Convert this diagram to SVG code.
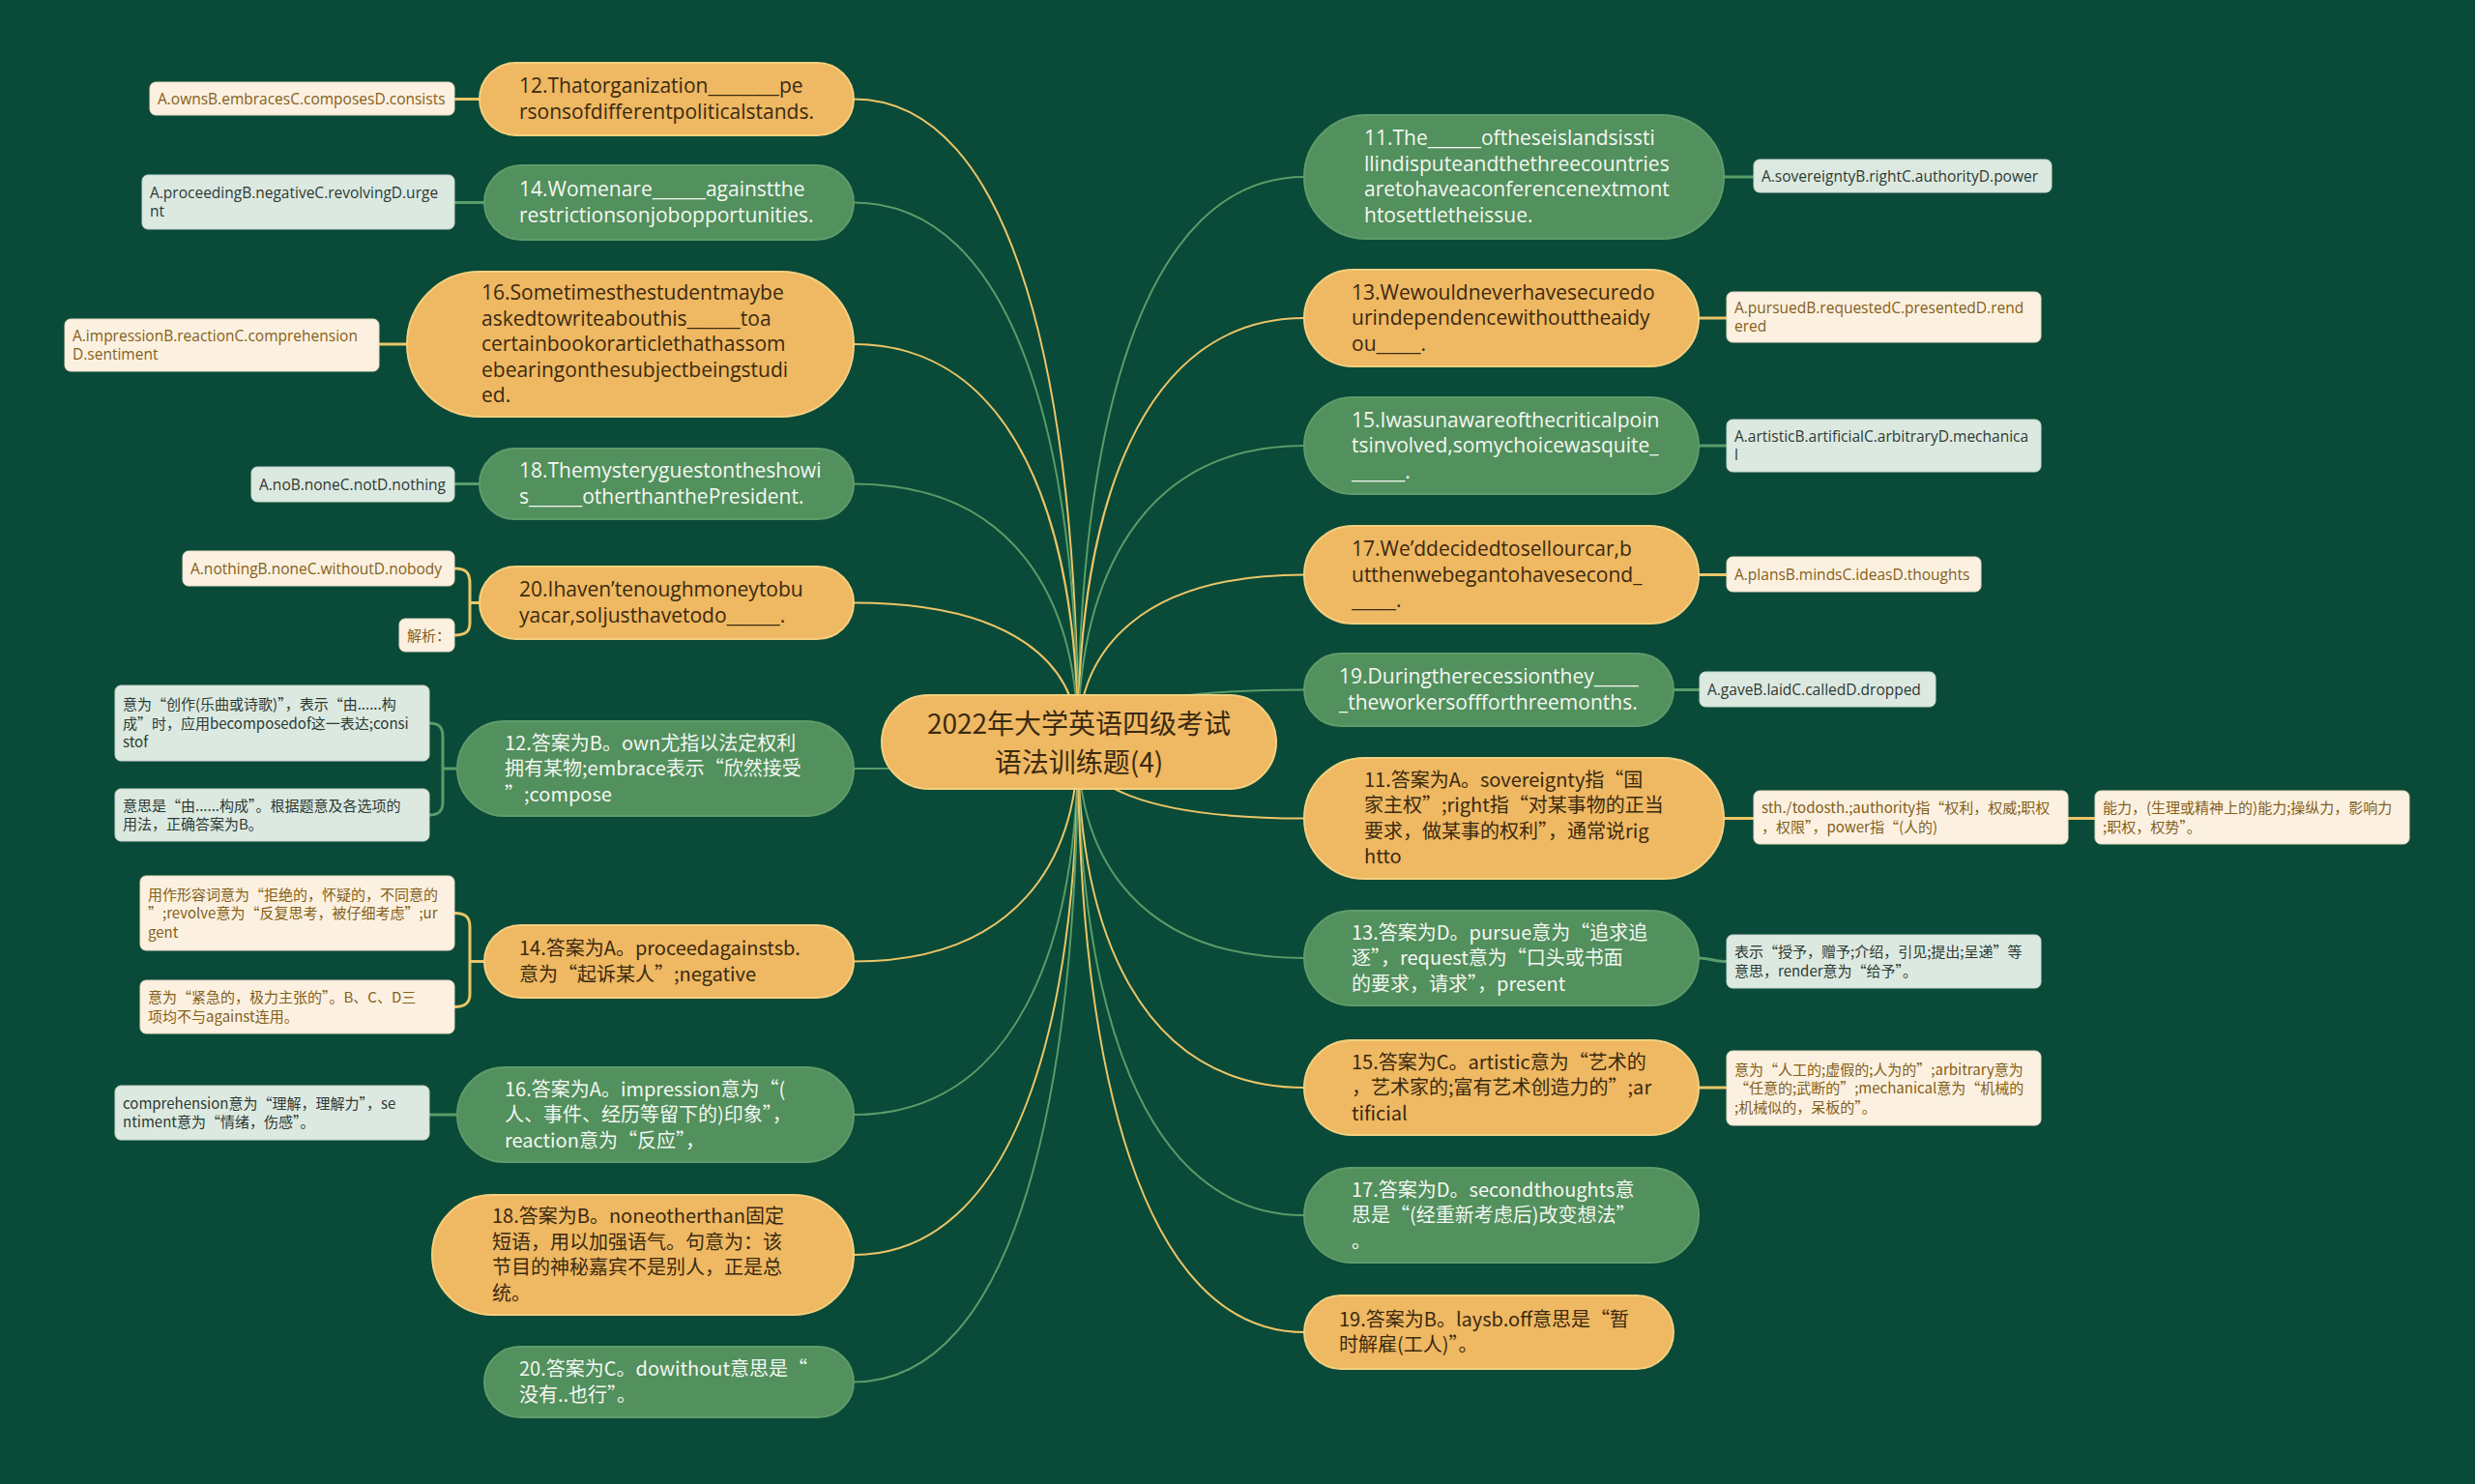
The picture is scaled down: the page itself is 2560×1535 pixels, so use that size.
<svg xmlns="http://www.w3.org/2000/svg" width="2560" height="1535" viewBox="0 0 2560 1535">
<style>
.on{fill:#efb862;stroke:#f5d07f;stroke-width:2}
.gn{fill:#52905d;stroke:#5e9c69;stroke-width:2}
.cb{fill:#fcf1e1;stroke:#e9dcc4;stroke-width:1}
.lb{fill:#dce9e1;stroke:#c8d9ce;stroke-width:1}
text{font-family:"Open Sans","Noto Sans CJK SC",sans-serif}
.te{font-family:"Open Sans","Noto Sans CJK SC",sans-serif;font-size:21px}
.tz{font-family:"Noto Sans CJK SC","Open Sans",sans-serif;font-size:20px}
.be{font-family:"Open Sans","Noto Sans CJK SC",sans-serif;font-size:15.5px}
.bz{font-family:"Noto Sans CJK SC","Open Sans",sans-serif;font-size:15px}
.ct{font-family:"Noto Sans CJK SC",sans-serif;font-size:28px}
.dk{fill:#3a2a10}
.wh{fill:#f4f7f2}
.br{fill:#84601a}
.bd{fill:#2d3a33}
.ly{stroke:#ecc567;fill:none;stroke-width:2}
.lg{stroke:#5a9c69;fill:none;stroke-width:2}
.s{stroke-width:3}
</style>
<rect x="0" y="0" width="2560" height="1535" fill="#0a4a38"/>
<g id="connectors">
<path class="ly" d="M1115 767 C1115 401.5 1050 102.5 883 102.5"/>
<path class="lg" d="M1115 767 C1115 460.4 1050 209.5 883 209.5"/>
<path class="ly" d="M1115 767 C1115 541 1050 356 883 356"/>
<path class="lg" d="M1115 767 C1115 620.4 1050 500.5 883 500.5"/>
<path class="ly" d="M1115 767 C1115 688.1 1050 623.5 883 623.5"/>
<path class="lg" d="M1115 767 C1115 782.4 1050 795 883 795"/>
<path class="ly" d="M1115 767 C1115 892.1 1050 994.5 883 994.5"/>
<path class="lg" d="M1115 767 C1115 979.3 1050 1153 883 1153"/>
<path class="ly" d="M1115 767 C1115 1059 1050 1298 883 1298"/>
<path class="lg" d="M1115 767 C1115 1131.4 1050 1429.5 883 1429.5"/>
<path class="lg" d="M1115 767 C1115 445.8 1180.5 183 1349 183"/>
<path class="ly" d="M1115 767 C1115 526.1 1180.5 329 1349 329"/>
<path class="lg" d="M1115 767 C1115 598.7 1180.5 461 1349 461"/>
<path class="ly" d="M1115 767 C1115 672.1 1180.5 594.5 1349 594.5"/>
<path class="lg" d="M1115 767 C1115 737.6 1180.5 713.5 1349 713.5"/>
<path class="ly" d="M1115 767 C1115 810.7 1180.5 846.5 1349 846.5"/>
<path class="lg" d="M1115 767 C1115 890.2 1180.5 991 1349 991"/>
<path class="ly" d="M1115 767 C1115 963.9 1180.5 1125 1349 1125"/>
<path class="lg" d="M1115 767 C1115 1036.5 1180.5 1257 1349 1257"/>
<path class="ly" d="M1115 767 C1115 1103 1180.5 1378 1349 1378"/>
<path class="ly s" d="M496 102.5 H470"/>
<path class="lg s" d="M501 209.5 H470"/>
<path class="ly s" d="M421 356 H392"/>
<path class="lg s" d="M496 500.5 H470"/>
<path class="ly s" d="M496 623.5 H486 M470 588 C482 588 486 592 486 604 V644 C486 653 482 657 470 657"/>
<path class="lg s" d="M473 795 H458 M444 748 C454 748 458 752 458 762 V829 C458 839 454 843 444 843"/>
<path class="ly s" d="M501 994.5 H486 M470 944.5 C482 944.5 486 949 486 959 V1028 C486 1037 482 1041.5 470 1041.5"/>
<path class="lg s" d="M473 1153 H444"/>
<path class="lg s" d="M1783 183 H1814"/>
<path class="ly s" d="M1757 329 H1786"/>
<path class="lg s" d="M1757 461 H1786"/>
<path class="ly s" d="M1757 594.5 H1786"/>
<path class="lg s" d="M1731 713.5 H1758"/>
<path class="ly s" d="M1783 846.5 H1814 M2139 846.5 H2167"/>
<path class="lg s" d="M1757 991 C1770 991 1772 994.5 1786 994.5"/>
<path class="ly s" d="M1757 1125 H1786"/>
</g>
<g id="center">
<rect class="on" x="912" y="719" width="408" height="97" rx="48.5"/>
<text class="ct dk" x="1116" y="759" text-anchor="middle">2022年大学英语四级考试</text>
<text class="ct dk" x="1116" y="799" text-anchor="middle">语法训练题(4)</text>
</g>
<g id="q12">
<rect class="on" x="496" y="65" width="387" height="75" rx="37.5"/>
<text class="te dk"><tspan x="537" y="96">12.Thatorganization________pe</tspan><tspan x="537" y="123">rsonsofdifferentpoliticalstands.</tspan></text>
</g>
<g id="q14">
<rect class="gn" x="501" y="171" width="382" height="77" rx="38.5"/>
<text class="te wh"><tspan x="537" y="203">14.Womenare______againstthe</tspan><tspan x="537" y="230">restrictionsonjobopportunities.</tspan></text>
</g>
<g id="q16">
<rect class="on" x="421" y="281" width="462" height="150" rx="75"/>
<text class="te dk"><tspan x="498" y="310">16.Sometimesthestudentmaybe</tspan><tspan x="498" y="336.5">askedtowriteabouthis______toa</tspan><tspan x="498" y="363">certainbookorarticlethathassom</tspan><tspan x="498" y="389.5">ebearingonthesubjectbeingstudi</tspan><tspan x="498" y="416">ed.</tspan></text>
</g>
<g id="q18">
<rect class="gn" x="496" y="464" width="387" height="73" rx="36.5"/>
<text class="te wh"><tspan x="537" y="494">18.Themysteryguestontheshowi</tspan><tspan x="537" y="521">s______otherthanthePresident.</tspan></text>
</g>
<g id="q20">
<rect class="on" x="496" y="586" width="387" height="75" rx="37.5"/>
<text class="te dk"><tspan x="537" y="617">20.Ihaven’tenoughmoneytobu</tspan><tspan x="537" y="644">yacar,soIjusthavetodo______.</tspan></text>
</g>
<g id="a12">
<rect class="gn" x="473" y="746" width="410" height="98" rx="49"/>
<text class="tz wh"><tspan x="522" y="775.5">12.答案为B。own尤指以法定权利</tspan><tspan x="522" y="802">拥有某物;embrace表示“欣然接受</tspan><tspan x="522" y="828.5">”;compose</tspan></text>
</g>
<g id="a14">
<rect class="on" x="501" y="957" width="382" height="75" rx="37.5"/>
<text class="tz dk"><tspan x="537" y="988">14.答案为A。proceedagainstsb.</tspan><tspan x="537" y="1015">意为“起诉某人”;negative</tspan></text>
</g>
<g id="a16">
<rect class="gn" x="473" y="1104" width="410" height="98" rx="49"/>
<text class="tz wh"><tspan x="522" y="1133.5">16.答案为A。impression意为“(</tspan><tspan x="522" y="1160">人、事件、经历等留下的)印象”，</tspan><tspan x="522" y="1186.5">reaction意为“反应”，</tspan></text>
</g>
<g id="a18">
<rect class="on" x="447" y="1236" width="436" height="124" rx="62"/>
<text class="tz dk"><tspan x="509" y="1265">18.答案为B。noneotherthan固定</tspan><tspan x="509" y="1292">短语，用以加强语气。句意为：该</tspan><tspan x="509" y="1318">节目的神秘嘉宾不是别人，正是总</tspan><tspan x="509" y="1345">统。</tspan></text>
</g>
<g id="a20">
<rect class="gn" x="501" y="1393" width="382" height="73" rx="36.5"/>
<text class="tz wh"><tspan x="537" y="1423">20.答案为C。dowithout意思是“</tspan><tspan x="537" y="1450">没有..也行”。</tspan></text>
</g>
<g id="q11">
<rect class="gn" x="1349" y="119" width="434" height="128" rx="64"/>
<text class="te wh"><tspan x="1411" y="150">11.The______oftheseislandsissti</tspan><tspan x="1411" y="177">llindisputeandthethreecountries</tspan><tspan x="1411" y="203">aretohaveaconferencenextmont</tspan><tspan x="1411" y="230">htosettletheissue.</tspan></text>
</g>
<g id="q13">
<rect class="on" x="1349" y="279" width="408" height="100" rx="50"/>
<text class="te dk"><tspan x="1398" y="309.5">13.Wewouldneverhavesecuredo</tspan><tspan x="1398" y="336">urindependencewithouttheaidy</tspan><tspan x="1398" y="362.5">ou_____.</tspan></text>
</g>
<g id="q15">
<rect class="gn" x="1349" y="411" width="408" height="100" rx="50"/>
<text class="te wh"><tspan x="1398" y="441.5">15.Iwasunawareofthecriticalpoin</tspan><tspan x="1398" y="468">tsinvolved,somychoicewasquite_</tspan><tspan x="1398" y="494.5">______.</tspan></text>
</g>
<g id="q17">
<rect class="on" x="1349" y="544" width="408" height="101" rx="50.5"/>
<text class="te dk"><tspan x="1398" y="575">17.We’ddecidedtosellourcar,b</tspan><tspan x="1398" y="601.5">utthenwebegantohavesecond_</tspan><tspan x="1398" y="628">_____.</tspan></text>
</g>
<g id="q19">
<rect class="gn" x="1349" y="676" width="382" height="75" rx="37.5"/>
<text class="te wh"><tspan x="1385" y="707">19.Duringtherecessionthey_____</tspan><tspan x="1385" y="734">_theworkersoffforthreemonths.</tspan></text>
</g>
<g id="a11">
<rect class="on" x="1349" y="784" width="434" height="125" rx="62.5"/>
<text class="tz dk"><tspan x="1411" y="814">11.答案为A。sovereignty指“国</tspan><tspan x="1411" y="840">家主权”;right指“对某事物的正当</tspan><tspan x="1411" y="867">要求，做某事的权利”，通常说rig</tspan><tspan x="1411" y="893">htto</tspan></text>
</g>
<g id="a13">
<rect class="gn" x="1349" y="942" width="408" height="98" rx="49"/>
<text class="tz wh"><tspan x="1398" y="971.5">13.答案为D。pursue意为“追求追</tspan><tspan x="1398" y="998">逐”，request意为“口头或书面</tspan><tspan x="1398" y="1024.5">的要求，请求”，present</tspan></text>
</g>
<g id="a15">
<rect class="on" x="1349" y="1076" width="408" height="98" rx="49"/>
<text class="tz dk"><tspan x="1398" y="1105.5">15.答案为C。artistic意为“艺术的</tspan><tspan x="1398" y="1132">，艺术家的;富有艺术创造力的”;ar</tspan><tspan x="1398" y="1158.5">tificial</tspan></text>
</g>
<g id="a17">
<rect class="gn" x="1349" y="1208" width="408" height="98" rx="49"/>
<text class="tz wh"><tspan x="1398" y="1237.5">17.答案为D。secondthoughts意</tspan><tspan x="1398" y="1264">思是“(经重新考虑后)改变想法”</tspan><tspan x="1398" y="1290.5">。</tspan></text>
</g>
<g id="a19">
<rect class="on" x="1349" y="1340" width="382" height="76" rx="38"/>
<text class="tz dk"><tspan x="1385" y="1372">19.答案为B。laysb.off意思是“暂</tspan><tspan x="1385" y="1398">时解雇(工人)”。</tspan></text>
</g>
<g id="opt12">
<rect class="cb" x="155" y="85" width="315" height="34" rx="6"/>
<text class="be br" x="163" y="107.5">A.ownsB.embracesC.composesD.consists</text>
</g>
<g id="opt14">
<rect class="lb" x="147" y="181" width="323" height="56" rx="6"/>
<text class="be bd"><tspan x="155" y="205">A.proceedingB.negativeC.revolvingD.urge</tspan><tspan x="155" y="224">nt</tspan></text>
</g>
<g id="opt16">
<rect class="cb" x="67" y="330" width="325" height="54" rx="6"/>
<text class="be br"><tspan x="75" y="353">A.impressionB.reactionC.comprehension</tspan><tspan x="75" y="372">D.sentiment</tspan></text>
</g>
<g id="opt18">
<rect class="lb" x="260" y="483" width="210" height="36" rx="6"/>
<text class="be bd" x="268" y="506.5">A.noB.noneC.notD.nothing</text>
</g>
<g id="opt20">
<rect class="cb" x="189" y="570" width="281" height="36" rx="6"/>
<text class="be br" x="197" y="593.5">A.nothingB.noneC.withoutD.nobody</text>
</g>
<g id="jx20">
<rect class="cb" x="413" y="640" width="57" height="34" rx="6"/>
<text class="bz br" x="421" y="662.5">解析：</text>
</g>
<g id="d12a">
<rect class="lb" x="119" y="709" width="325" height="78" rx="6"/>
<text class="bz bd"><tspan x="127" y="734">意为“创作(乐曲或诗歌)”，表示“由......构</tspan><tspan x="127" y="753.5">成”时，应用becomposedof这一表达;consi</tspan><tspan x="127" y="773">stof</tspan></text>
</g>
<g id="d12b">
<rect class="lb" x="119" y="816" width="325" height="54" rx="6"/>
<text class="bz bd"><tspan x="127" y="839">意思是“由......构成”。根据题意及各选项的</tspan><tspan x="127" y="858">用法，正确答案为B。</tspan></text>
</g>
<g id="d14a">
<rect class="cb" x="145" y="906" width="325" height="77" rx="6"/>
<text class="bz br"><tspan x="153" y="930.5">用作形容词意为“拒绝的，怀疑的，不同意的</tspan><tspan x="153" y="950">”;revolve意为“反复思考，被仔细考虑”;ur</tspan><tspan x="153" y="969.5">gent</tspan></text>
</g>
<g id="d14b">
<rect class="cb" x="145" y="1014" width="325" height="55" rx="6"/>
<text class="bz br"><tspan x="153" y="1037">意为“紧急的，极力主张的”。B、C、D三</tspan><tspan x="153" y="1057">项均不与against连用。</tspan></text>
</g>
<g id="d16">
<rect class="lb" x="119" y="1123" width="325" height="56" rx="6"/>
<text class="bz bd"><tspan x="127" y="1147">comprehension意为“理解，理解力”，se</tspan><tspan x="127" y="1166">ntiment意为“情绪，伤感”。</tspan></text>
</g>
<g id="opt11">
<rect class="lb" x="1814" y="165" width="308" height="34" rx="6"/>
<text class="be bd" x="1822" y="187.5">A.sovereigntyB.rightC.authorityD.power</text>
</g>
<g id="opt13">
<rect class="cb" x="1786" y="302" width="325" height="52" rx="6"/>
<text class="be br"><tspan x="1794" y="324">A.pursuedB.requestedC.presentedD.rend</tspan><tspan x="1794" y="343">ered</tspan></text>
</g>
<g id="opt15">
<rect class="lb" x="1786" y="434" width="325" height="54" rx="6"/>
<text class="be bd"><tspan x="1794" y="457">A.artisticB.artificialC.arbitraryD.mechanica</tspan><tspan x="1794" y="476">l</tspan></text>
</g>
<g id="opt17">
<rect class="cb" x="1786" y="576" width="263" height="36" rx="6"/>
<text class="be br" x="1794" y="599.5">A.plansB.mindsC.ideasD.thoughts</text>
</g>
<g id="opt19">
<rect class="lb" x="1758" y="695" width="244" height="36" rx="6"/>
<text class="be bd" x="1766" y="718.5">A.gaveB.laidC.calledD.dropped</text>
</g>
<g id="d11a">
<rect class="cb" x="1814" y="818" width="325" height="55" rx="6"/>
<text class="bz br"><tspan x="1822" y="841">sth./todosth.;authority指“权利，权威;职权</tspan><tspan x="1822" y="861">，权限”，power指“(人的)</tspan></text>
</g>
<g id="d11b">
<rect class="cb" x="2167" y="818" width="325" height="55" rx="6"/>
<text class="bz br"><tspan x="2175" y="841">能力，(生理或精神上的)能力;操纵力，影响力</tspan><tspan x="2175" y="861">;职权，权势”。</tspan></text>
</g>
<g id="d13">
<rect class="lb" x="1786" y="967" width="325" height="55" rx="6"/>
<text class="bz bd"><tspan x="1794" y="990">表示“授予，赠予;介绍，引见;提出;呈递”等</tspan><tspan x="1794" y="1010">意思，render意为“给予”。</tspan></text>
</g>
<g id="d15">
<rect class="cb" x="1786" y="1087" width="325" height="77" rx="6"/>
<text class="bz br"><tspan x="1794" y="1111.5">意为“人工的;虚假的;人为的”;arbitrary意为</tspan><tspan x="1794" y="1131">“任意的;武断的”;mechanical意为“机械的</tspan><tspan x="1794" y="1150.5">;机械似的，呆板的”。</tspan></text>
</g>
</svg>
